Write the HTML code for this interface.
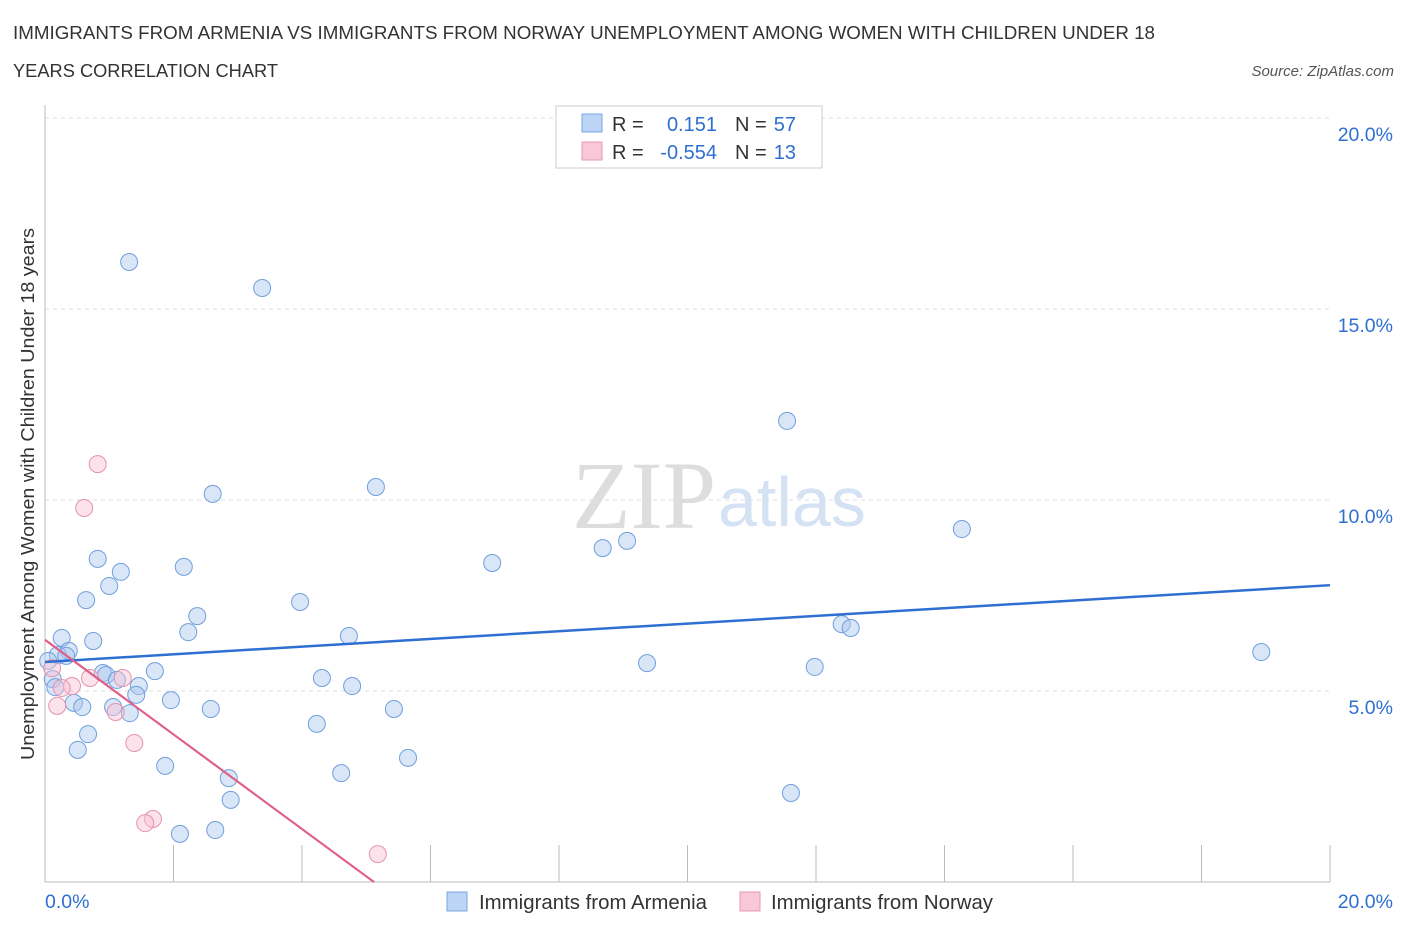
<!DOCTYPE html>
<html><head><meta charset="utf-8"><style>
body{margin:0;background:#fff;font-family:"Liberation Sans",sans-serif;}
</style></head><body>
<svg width="1406" height="930" xmlns="http://www.w3.org/2000/svg">
<text x="13" y="39" font-size="18.5" fill="#333" textLength="1142" lengthAdjust="spacingAndGlyphs">IMMIGRANTS FROM ARMENIA VS IMMIGRANTS FROM NORWAY UNEMPLOYMENT AMONG WOMEN WITH CHILDREN UNDER 18</text>
<text x="13" y="77" font-size="18.5" fill="#333" textLength="265" lengthAdjust="spacingAndGlyphs">YEARS CORRELATION CHART</text>
<text x="1394" y="76" font-size="15" font-style="italic" fill="#555" text-anchor="end">Source: ZipAtlas.com</text>
<text x="716" y="528" font-size="96" font-family="Liberation Serif,serif" fill="#ddd" text-anchor="end">ZIP</text>
<text x="718" y="526" font-size="70" fill="#d4e2f4">atlas</text>
<g id="grid"></g>
<g id="marks"></g>
<text transform="translate(34,494) rotate(-90)" font-size="18" fill="#333" text-anchor="middle" textLength="532" lengthAdjust="spacingAndGlyphs">Unemployment Among Women with Children Under 18 years</text>
<g>
<rect x="556" y="106" width="266" height="62" fill="#fff" stroke="#ccc"/>
<rect x="582" y="114" width="20" height="18" fill="#bcd4f6" stroke="#7aa6e0"/>
<rect x="582" y="142" width="20" height="18" fill="#f8c8d6" stroke="#e899b0"/>
<text x="612" y="131" font-size="20" fill="#333">R =</text>
<text x="717" y="131" font-size="20" fill="#2e6fd1" text-anchor="end">0.151</text>
<text x="735" y="131" font-size="20" fill="#333">N =</text>
<text x="796" y="131" font-size="20" fill="#2e6fd1" text-anchor="end">57</text>
<text x="612" y="159" font-size="20" fill="#333">R =</text>
<text x="717" y="159" font-size="20" fill="#2e6fd1" text-anchor="end">-0.554</text>
<text x="735" y="159" font-size="20" fill="#333">N =</text>
<text x="796" y="159" font-size="20" fill="#2e6fd1" text-anchor="end">13</text>
</g>
<g>
<rect x="447" y="892" width="20" height="19" fill="#bcd4f6" stroke="#7aa6e0"/>
<text x="479" y="909" font-size="20" fill="#333" textLength="228" lengthAdjust="spacingAndGlyphs">Immigrants from Armenia</text>
<rect x="740" y="892" width="20" height="19" fill="#f8c8d6" stroke="#e899b0"/>
<text x="771" y="909" font-size="20" fill="#333" textLength="222" lengthAdjust="spacingAndGlyphs">Immigrants from Norway</text>
</g>
</svg>
<script>
const yTicks=[5,10,15,20];
const yTickLabels=["5.0%","10.0%","15.0%","20.0%"];
const xTicks=[0,2,4,6,8,10,12,14,16,18,20];
const armeniaX=[1.31,3.38,11.55,5.15,2.61,14.27,9.06,8.68,6.96,0.82,2.16,1.18,1.0,0.64,3.97,2.37,12.4,12.54,2.23,4.73,0.26,0.75,18.93,0.37,0.2,0.33,0.05,9.37,11.98,1.71,0.9,0.95,1.12,4.31,0.12,1.46,4.78,0.16,1.42,1.96,0.45,0.58,1.06,2.58,5.43,1.32,4.23,0.67,0.51,5.65,1.87,4.61,2.86,11.61,2.89,2.65,2.1];
const armeniaY=[16.23,15.55,12.07,10.34,10.16,9.24,8.93,8.74,8.35,8.46,8.25,8.12,7.75,7.38,7.33,6.96,6.75,6.65,6.54,6.44,6.39,6.31,6.02,6.05,5.94,5.92,5.79,5.73,5.63,5.52,5.47,5.42,5.29,5.34,5.31,5.13,5.13,5.1,4.9,4.76,4.69,4.58,4.58,4.53,4.53,4.42,4.14,3.87,3.46,3.25,3.04,2.85,2.72,2.33,2.15,1.36,1.26];
const norwayX=[0.82,0.61,0.11,0.7,1.21,0.42,0.26,0.19,1.1,1.39,1.68,1.56,5.18];
const norwayY=[10.94,9.79,5.6,5.34,5.34,5.13,5.08,4.61,4.45,3.64,1.65,1.54,0.73];
const armeniaTrend=[5.76,7.77];
const norwayTrend=[6.34,0,5.12];
const NS="http://www.w3.org/2000/svg";
const sx=v=>45+v*64.25, sy=v=>882-v*38.2;
function mk(t,a,p){const e=document.createElementNS(NS,t);for(const k in a)e.setAttribute(k,a[k]);p.appendChild(e);return e;}
const g=document.getElementById('grid'), m=document.getElementById('marks');
yTicks.forEach((v,i)=>{const l=mk('line',{x1:45,x2:1330,y1:sy(v),y2:sy(v),stroke:'#ddd','stroke-dasharray':'4,4'},g);


const t=mk('text',{x:1393,y:sy(v)+23,'font-size':19.5,fill:'#2e6fd1','text-anchor':'end'},g);t.textContent=yTickLabels[i];

});
const ax=mk('line',{x1:45,x2:1330,y1:882,y2:882,stroke:'#bbb'},g);


const ay=mk('line',{x1:45,x2:45,y1:105,y2:882,stroke:'#bbb'},g);


xTicks.forEach(v=>{const l=mk('line',{x1:sx(v),x2:sx(v),y1:845,y2:882,stroke:'#bbb'},g);

});
[[0,"0.0%",'start',45],[20,"20.0%",'end',1393]].forEach(a=>{const t=mk('text',{x:a[3],y:908,'font-size':19.5,fill:'#2e6fd1','text-anchor':a[2]},g);t.textContent=a[1];

});
armeniaX.forEach((x,i)=>{const c=mk('circle',{cx:sx(x),cy:sy(armeniaY[i]),r:8.5,fill:'rgba(170,200,240,0.45)',stroke:'#6f9fdc','stroke-width':1},m);

});
norwayX.forEach((x,i)=>{const c=mk('circle',{cx:sx(x),cy:sy(norwayY[i]),r:8.5,fill:'rgba(248,190,210,0.45)',stroke:'#e594ad','stroke-width':1},m);

});
const bl=mk('line',{x1:sx(0),y1:sy(armeniaTrend[0]),x2:sx(20),y2:sy(armeniaTrend[1]),stroke:'#2e6fd1','stroke-width':2.5},m);


const pl=mk('line',{x1:sx(0),y1:sy(norwayTrend[0]),x2:sx(norwayTrend[2]),y2:sy(norwayTrend[1]),stroke:'#e0608a','stroke-width':2.2},m);


</script>
</body></html>
